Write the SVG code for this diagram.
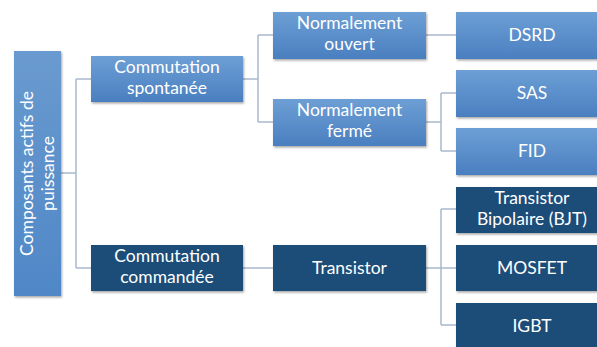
<svg xmlns="http://www.w3.org/2000/svg" width="597" height="347" viewBox="0 0 597 347">
<defs>
<linearGradient id="gl" x1="0" y1="0" x2="0" y2="1">
<stop offset="0" stop-color="#6d9fd5"/>
<stop offset="1" stop-color="#4a7fc0"/>
</linearGradient>
<linearGradient id="gr" x1="0" y1="0" x2="0" y2="1">
<stop offset="0" stop-color="#6a9acf"/>
<stop offset="1" stop-color="#4f87c7"/>
</linearGradient>
<filter id="sh" x="-10%" y="-10%" width="130%" height="130%">
<feDropShadow dx="1" dy="1.5" stdDeviation="1" flood-color="#000" flood-opacity="0.35"/>
</filter>
</defs>
<style>
.light{fill:url(#gl);filter:url(#sh)}
.dark{fill:#1f4e79;filter:url(#sh)}
.root{fill:url(#gr);filter:url(#sh)}
text{font-family:Lato,"Open Sans","Liberation Sans",sans-serif;font-size:17.5px;fill:#ffffff;text-anchor:middle}
.con{fill:none;stroke:#a9b9cd;stroke-width:1.5}
</style>
<rect width="597" height="347" fill="#ffffff"/>
<g id="connectors">
<path class="con" d="M61 173H76M76 79V268M76 79H91M76 268H91"/>
<path class="con" d="M243 79H258M258 35V122M258 35H273M258 122H273"/>
<path class="con" d="M426 35H456"/>
<path class="con" d="M426 122H441M441 93V151M441 93H456M441 151H456"/>
<path class="con" d="M243 268H273"/>
<path class="con" d="M426 268H456M441 209V325M441 209H456M441 325H456"/>
</g>
<g id="root">
<rect class="root" x="14" y="51" width="47" height="245"/>
<text transform="translate(37.5 173.5) rotate(-90)"><tspan x="0" y="-5">Composants actifs de</tspan><tspan x="0" y="16">puissance</tspan></text>
</g>
<g id="spontanee">
<rect class="light" x="91" y="56" width="152" height="46"/>
<text><tspan x="167" y="73">Commutation</tspan><tspan x="167" y="94">spontanée</tspan></text>
</g>
<g id="commandee">
<rect class="dark" x="91" y="245" width="152" height="46"/>
<text><tspan x="167" y="262">Commutation</tspan><tspan x="167" y="283">commandée</tspan></text>
</g>
<g id="ouvert">
<rect class="light" x="273" y="12" width="153" height="47"/>
<text><tspan x="349.5" y="29">Normalement</tspan><tspan x="349.5" y="50">ouvert</tspan></text>
</g>
<g id="ferme">
<rect class="light" x="273" y="99" width="153" height="47"/>
<text><tspan x="349.5" y="116">Normalement</tspan><tspan x="349.5" y="137">fermé</tspan></text>
</g>
<g id="transistor">
<rect class="dark" x="273" y="245" width="153" height="46"/>
<text x="349.5" y="274">Transistor</text>
</g>
<g id="dsrd">
<rect class="light" x="456" y="12" width="152" height="47"/>
<text x="532" y="41">DSRD</text>
</g>
<g id="sas">
<rect class="light" x="456" y="70" width="152" height="47"/>
<text x="532" y="99">SAS</text>
</g>
<g id="fid">
<rect class="light" x="456" y="128" width="152" height="47"/>
<text x="532" y="157">FID</text>
</g>
<g id="bjt">
<rect class="dark" x="456" y="187" width="152" height="46"/>
<text><tspan x="532" y="204">Transistor</tspan><tspan x="532" y="225">Bipolaire (BJT)</tspan></text>
</g>
<g id="mosfet">
<rect class="dark" x="456" y="245" width="152" height="46"/>
<text x="532" y="274">MOSFET</text>
</g>
<g id="igbt">
<rect class="dark" x="456" y="303" width="152" height="46"/>
<text x="532" y="332">IGBT</text>
</g>
</svg>
